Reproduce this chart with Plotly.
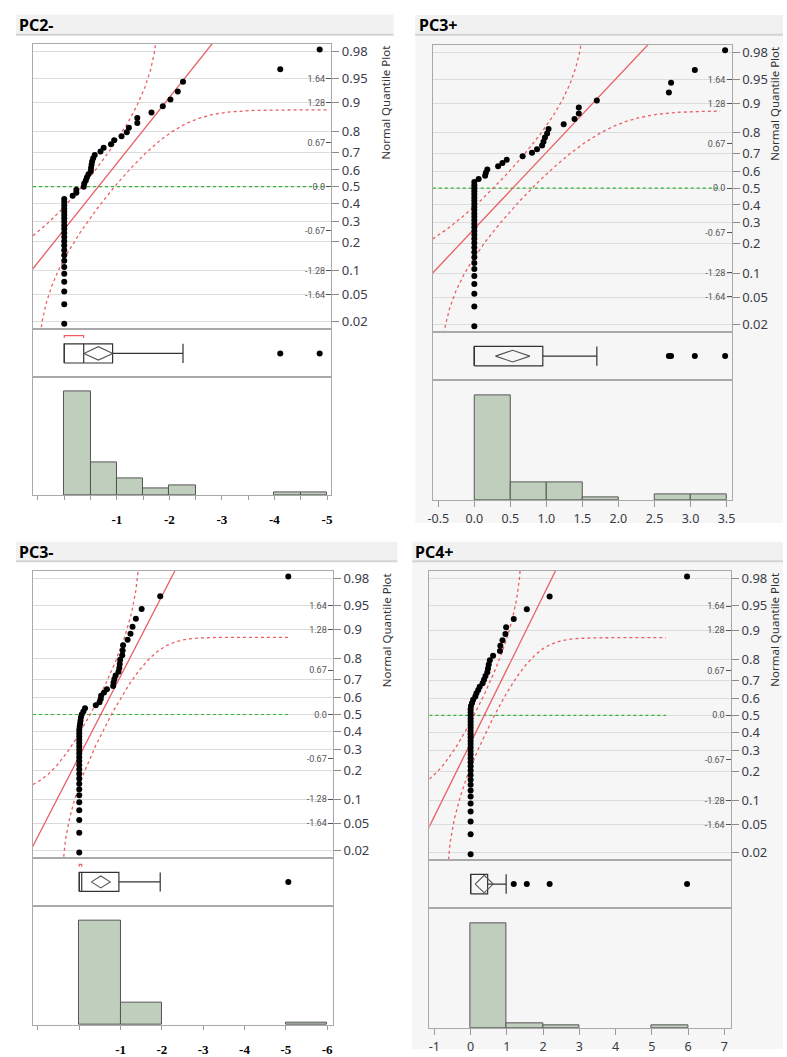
import numpy as np
import plotly.graph_objects as go
from statistics import NormalDist

W, H = 787, 1057

# ---------------- data ----------------
panel_titles = ["PC2-", "PC3+", "PC3-", "PC4+"]

pc2_minus = [0, 0, 0, 0, 0, 0, 0, 0, 0, 0, 0, 0, 0, 0, 0, 0, 0, 0, 0, 0, 0, 0, 0,
             0.16, 0.23, 0.23, 0.37, 0.38, 0.41, 0.43, 0.46, 0.505, 0.51, 0.52, 0.53,
             0.55, 0.58, 0.69, 0.75, 0.89, 0.95, 1.09, 1.19, 1.23, 1.39, 1.39, 1.66,
             1.875, 2.02, 2.16, 2.26, 4.11, 4.86]

pc3_plus = [0, 0, 0, 0, 0, 0, 0, 0, 0, 0, 0, 0, 0, 0, 0, 0, 0, 0, 0, 0, 0, 0, 0, 0, 0,
            0, 0, 0, 0,
            0.06, 0.15, 0.16, 0.18, 0.33, 0.39, 0.45, 0.67, 0.80, 0.87, 0.94, 0.96,
            0.98, 1.01, 1.03, 1.24, 1.39, 1.45, 1.45, 1.70, 2.70, 2.73, 3.06, 3.48]

pc3_minus = [0, 0, 0, 0, 0, 0, 0, 0, 0, 0, 0, 0, 0, 0, 0, 0, 0, 0, 0, 0, 0, 0,
             0.01, 0.02, 0.03, 0.04, 0.06, 0.10, 0.14, 0.40, 0.49, 0.52, 0.53, 0.60,
             0.67, 0.82, 0.83, 0.85, 0.88, 0.95, 0.97, 0.98, 0.99, 1.04, 1.05, 1.06,
             1.17, 1.24, 1.29, 1.37, 1.51, 1.96, 5.06]

pc4_plus = [0, 0, 0, 0, 0, 0, 0, 0, 0, 0, 0, 0, 0, 0, 0, 0, 0, 0, 0, 0, 0, 0, 0, 0, 0,
            0, 0, 0, 0,
            0.01, 0.04, 0.07, 0.13, 0.16, 0.21, 0.25, 0.33, 0.37, 0.41, 0.46, 0.48,
            0.50, 0.53, 0.62, 0.81, 0.82, 0.88, 0.96, 0.98, 1.19, 1.55, 2.18, 5.97]

prob_ticks = [0.02, 0.05, 0.1, 0.2, 0.3, 0.4, 0.5, 0.6, 0.7, 0.8, 0.9, 0.95, 0.98]
prob_labels = ["0.02", "0.05", "0.1", "0.2", "0.3", "0.4", "0.5", "0.6", "0.7", "0.8",
               "0.9", "0.95", "0.98"]
z_ticks = [-1.64, -1.28, -0.67, 0.0, 0.67, 1.28, 1.64]
z_labels = ["-1.64", "-1.28", "-0.67", "0.0", "0.67", "1.28", "1.64"]

pc2_bins = [0.0, 0.5, 1.0, 1.5, 2.0, 2.5, 3.0, 3.5, 4.0, 4.5, 5.0]
pc3_plus_bins = [0.0, 0.5, 1.0, 1.5, 2.0, 2.5, 3.0, 3.5]
pc3_minus_bins = [0, 1, 2, 3, 4, 5, 6]
pc4_plus_bins = [0, 1, 2, 3, 4, 5, 6]

pc2_tickvals = [-0.5, 0, 0.5, 1, 1.5, 2, 2.5, 3, 3.5, 4, 4.5, 5]
pc2_ticktext = ["", "", "", "-1", "", "-2", "", "-3", "", "-4", "", "-5"]
pc3_plus_tickvals = [-0.5, 0, 0.5, 1, 1.5, 2, 2.5, 3, 3.5]
pc3_plus_ticktext = ["-0.5", "0.0", "0.5", "1.0", "1.5", "2.0", "2.5", "3.0", "3.5"]
pc3_minus_tickvals = [-1, 0, 1, 2, 3, 4, 5, 6]
pc3_minus_ticktext = ["", "", "-1", "-2", "-3", "-4", "-5", "-6"]
pc4_plus_tickvals = [-1, 0, 1, 2, 3, 4, 5, 6, 7]
pc4_plus_ticktext = ["-1", "0", "1", "2", "3", "4", "5", "6", "7"]

T975_52 = 2.0066  # t quantile for the mean diamond (df = 52)

# ---------------- layout / style per panel (pixels) ----------------
panels = [
    dict(title=panel_titles[0], data=pc2_minus, bins=pc2_bins, tv=pc2_tickvals, tt=pc2_ticktext,
         xr=[-0.595, 5.08], L=28.3, R=330.0, T=42.3, Q=330.5, B=379.0, Hb=498.0,
         line_end=5.03, dh=0.28, serif=True, hx=12, hy=23, band=(11, 393, 12.7, 33), lab_dx=55),
    dict(title=panel_titles[1], data=pc3_plus, bins=pc3_plus_bins, tv=pc3_plus_tickvals,
         tt=pc3_plus_ticktext, xr=[-0.577, 3.57], L=432.7, R=735.0, T=43.0, Q=333.0, B=382.0,
         Hb=503.0, line_end=3.41, dh=0.24, serif=False, hx=417, hy=23, band=(415, 787, 13, 33),
         lab_dx=44),
    dict(title=panel_titles[2], data=pc3_minus, bins=pc3_minus_bins, tv=pc3_minus_tickvals,
         tt=pc3_minus_ticktext, xr=[-1.12, 6.14], L=28.3, R=331.7, T=574.3, Q=864.3, B=912.3,
         Hb=1032.7, line_end=5.06, dh=0.25, serif=True, hx=12, hy=555, band=(11, 397, 545, 564.5),
         lab_dx=55),
    dict(title=panel_titles[3], data=pc4_plus, bins=pc4_plus_bins, tv=pc4_plus_tickvals,
         tt=pc4_plus_ticktext, xr=[-1.137, 7.18], L=429.3, R=734.3, T=574.3, Q=866.0, B=915.0,
         Hb=1035.7, line_end=5.39, dh=0.36, serif=False, hx=413, hy=555, band=(412, 787, 545, 564.5),
         lab_dx=44.5),
]

FRAME = "#a9a9a9"
RED = "#e95f63"
GREEN = "#2fb52f"
BAR_FILL = "#c0cebd"
BOX_C = "#333333"
ZR = [-2.17, 2.17]
BH = 0.40  # box half height (box-row units)


def fx(p):
    return p / W


def fy(p):
    return 1 - p / H


def aname(letter, i):
    return letter if i == 1 else f"{letter}{i}"


def lkey(letter, i):
    return f"{letter}axis" if i == 1 else f"{letter}axis{i}"


nd = NormalDist()
fig = go.Figure()
layout = {}
shapes = []
annotations = []

# panel backgrounds for right-hand panels
shapes.append(dict(type="rect", xref="paper", yref="paper", x0=fx(415), x1=1.0,
                   y0=fy(526), y1=fy(33), fillcolor="#f6f6f6", line_width=0, layer="below"))
shapes.append(dict(type="rect", xref="paper", yref="paper", x0=fx(412), x1=1.0,
                   y0=0.0, y1=fy(564.5), fillcolor="#f6f6f6", line_width=0, layer="below"))


def jmp_quantile(v, p):
    n = len(v)
    pos = (n + 1) * p
    lo = int(np.floor(pos))
    frac = pos - lo
    if lo < 1:
        return v[0]
    if lo >= n:
        return v[-1]
    return v[lo - 1] + frac * (v[lo] - v[lo - 1])


for k, P in enumerate(panels):
    vals = np.sort(np.array(P["data"], dtype=float))
    n = len(vals)
    zq = [nd.inv_cdf(r / (n + 1)) for r in range(1, n + 1)]
    mean = vals.mean()
    sd = vals.std(ddof=1)
    D = 0.886 / np.sqrt(n)

    i0 = 3 * k + 1
    xq, xb, xh = aname("x", i0), aname("x", i0 + 1), aname("x", i0 + 2)
    yq, yb, yh = aname("y", i0), aname("y", i0 + 1), aname("y", i0 + 2)
    yz = aname("y", 13 + k)
    xr = P["xr"]

    # --- quantile plot ---
    fig.add_trace(go.Scatter(x=[xr[0], P["line_end"]], y=[0, 0], mode="lines",
                             line=dict(color=GREEN, width=1.2, dash="dot"),
                             xaxis=xq, yaxis=yq, hoverinfo="skip"))
    xl = np.array([xr[0] - 1, xr[1] + 1])
    fig.add_trace(go.Scatter(x=xl, y=(xl - mean) / sd, mode="lines",
                             line=dict(color=RED, width=1.3), xaxis=xq, yaxis=yq,
                             hoverinfo="skip"))
    xs = np.linspace(xr[0], P["line_end"], 900)
    up, lo_ = [], []
    for x in xs:
        p0 = nd.cdf((x - mean) / sd)
        pu = min(p0 + D, 1 - 1e-5)
        pl = max(p0 - D, 1e-5)
        up.append(nd.inv_cdf(pu))
        lo_.append(nd.inv_cdf(pl))
    for band in (up, lo_):
        fig.add_trace(go.Scatter(x=xs, y=band, mode="lines",
                                 line=dict(color=RED, width=1.3, dash="dot"),
                                 xaxis=xq, yaxis=yq, hoverinfo="skip"))
    fig.add_trace(go.Scatter(x=vals, y=zq, mode="markers",
                             marker=dict(color="black", size=6), xaxis=xq, yaxis=yq))
    fig.add_trace(go.Scatter(x=[xr[0]], y=[0], mode="markers", marker=dict(opacity=0),
                             xaxis=xq, yaxis=yz, hoverinfo="skip"))

    # --- box plot row ---
    q1 = jmp_quantile(vals, 0.25)
    med = jmp_quantile(vals, 0.5)
    q3 = jmp_quantile(vals, 0.75)
    iqr = q3 - q1
    hi_f, lo_f = q3 + 1.5 * iqr, q1 - 1.5 * iqr
    w_hi = vals[vals <= hi_f].max()
    w_lo = vals[vals >= lo_f].min()
    outl = vals[(vals > hi_f) | (vals < lo_f)]
    ci = T975_52 * sd / np.sqrt(n)

    fig.add_trace(go.Scatter(
        x=[q1, q3, q3, q1, q1, None, med, med, None, q3, w_hi, None, w_hi, w_hi,
           None, w_lo, q1, None, w_lo, w_lo],
        y=[-BH, -BH, BH, BH, -BH, None, -BH, BH, None, 0, 0, None, -BH, BH,
           None, 0, 0, None, -BH, BH],
        mode="lines", line=dict(color=BOX_C, width=1.2), xaxis=xb, yaxis=yb, hoverinfo="skip"))
    dh = P["dh"]
    fig.add_trace(go.Scatter(x=[mean - ci, mean, mean + ci, mean, mean - ci],
                             y=[0, dh, 0, -dh, 0], mode="lines",
                             line=dict(color="#555555", width=1.1), xaxis=xb, yaxis=yb,
                             hoverinfo="skip"))
    fig.add_trace(go.Scatter(x=outl, y=[0] * len(outl), mode="markers",
                             marker=dict(color="black", size=6), xaxis=xb, yaxis=yb))
    kk = n // 2
    widths = vals[kk:] - vals[:-kk]
    j = int(np.argmin(widths))
    a, b = vals[j], vals[j + kk]
    if b - a > 1e-9:
        fig.add_trace(go.Scatter(x=[a, a, b, b], y=[0.64, 0.74, 0.74, 0.64], mode="lines",
                                 line=dict(color=RED, width=1.2), xaxis=xb, yaxis=yb,
                                 hoverinfo="skip"))

    # --- histogram ---
    counts, edges = np.histogram(vals, bins=P["bins"])
    centers = (edges[:-1] + edges[1:]) / 2
    wid = np.diff(edges)
    m = counts > 0
    fig.add_trace(go.Bar(x=centers[m], y=counts[m], width=wid[m],
                         marker=dict(color=BAR_FILL, line=dict(color="#555555", width=1)),
                         xaxis=xh, yaxis=yh))

    # --- axes ---
    xdom = [fx(P["L"]), fx(P["R"])]
    common_x = dict(domain=xdom, range=xr, showline=True, mirror=True, linecolor=FRAME,
                    linewidth=1, showgrid=False, zeroline=False, fixedrange=True)
    layout[lkey("x", i0)] = dict(common_x, anchor=yq, showticklabels=False, ticks="")
    layout[lkey("x", i0 + 1)] = dict(common_x, anchor=yb, showticklabels=False, ticks="")
    if P["serif"]:
        tf = dict(family="Liberation Serif", size=13, color="black", weight="bold")
        tl, so = 4, 8
    else:
        tf = dict(family="Noto Sans", size=12.5, color="#363a48")
        tl, so = 6, 1
    layout[lkey("x", i0 + 2)] = dict(common_x, anchor=yh, tickmode="array", tickvals=P["tv"],
                                     ticktext=P["tt"], ticks="outside", ticklen=tl,
                                     tickcolor="#9a9a9a", tickfont=tf, ticklabelstandoff=so)

    layout[lkey("y", i0)] = dict(domain=[fy(P["Q"]), fy(P["T"])], range=ZR, anchor=xq,
                                 side="right", tickmode="array",
                                 tickvals=[nd.inv_cdf(p) for p in prob_ticks],
                                 ticktext=prob_labels, ticks="outside", ticklen=7,
                                 tickcolor="#8a8a8a",
                                 tickfont=dict(family="Noto Sans", size=13, color="#3a3d4a"),
                                 showgrid=True, gridcolor="#dcdcdc", gridwidth=1,
                                 showline=True, mirror=True, linecolor=FRAME, zeroline=False,
                                 fixedrange=True)
    layout[lkey("y", 13 + k)] = dict(overlaying=yq, anchor=xq, side="right", range=ZR,
                                     tickmode="array", tickvals=z_ticks, ticktext=z_labels,
                                     ticks="inside", ticklen=5, tickcolor="#555555",
                                     ticklabelposition="inside",
                                     tickfont=dict(family="Roboto", size=9, color="#555555"),
                                     showgrid=False, showline=False, zeroline=False,
                                     fixedrange=True)
    layout[lkey("y", i0 + 1)] = dict(domain=[fy(P["B"]), fy(P["Q"])], range=[-1, 1], anchor=xb,
                                     showticklabels=False, ticks="", showgrid=False,
                                     showline=True, mirror=True, linecolor=FRAME,
                                     zeroline=False, fixedrange=True)
    layout[lkey("y", i0 + 2)] = dict(domain=[fy(P["Hb"]), fy(P["B"])],
                                     range=[0, counts.max() * 1.14], anchor=xh,
                                     showticklabels=False, ticks="", showgrid=False,
                                     showline=True, mirror=True, linecolor=FRAME,
                                     zeroline=False, fixedrange=True)

    # --- header band & titles ---
    bx0, bx1, by0, by1 = P["band"]
    shapes.append(dict(type="rect", xref="paper", yref="paper", x0=fx(bx0), x1=fx(bx1),
                       y0=fy(by1), y1=fy(by0), fillcolor="#f1f1f1", line_width=0,
                       layer="below"))
    shapes.append(dict(type="line", xref="paper", yref="paper", x0=fx(bx0), x1=fx(bx1),
                       y0=fy(by1), y1=fy(by1), line=dict(color="#d3d3d3", width=2),
                       layer="below"))
    annotations.append(dict(text="<b>" + P["title"] + "</b>", xref="paper", yref="paper",
                            x=fx(P["hx"]), y=fy(P["hy"]), xanchor="left", yanchor="middle",
                            showarrow=False,
                            font=dict(family="Noto Sans", size=16, color="black")))
    annotations.append(dict(text="Normal Quantile Plot", xref="paper", yref="paper",
                            x=fx(P["R"] + P["lab_dx"]), y=fy(P["T"]), xanchor="center",
                            yanchor="top", textangle=-90, showarrow=False,
                            font=dict(family="Noto Sans", size=11.5, color="#333333")))

fig.update_layout(
    width=W, height=H, margin=dict(l=0, r=0, t=0, b=0), autosize=False,
    paper_bgcolor="white", plot_bgcolor="rgba(0,0,0,0)", showlegend=False,
    shapes=shapes, annotations=annotations, bargap=0, **layout)

fig.write_html("out.html", config={"displayModeBar": False},
               post_script="document.body.style.margin='0';document.body.style.overflow='hidden';")
